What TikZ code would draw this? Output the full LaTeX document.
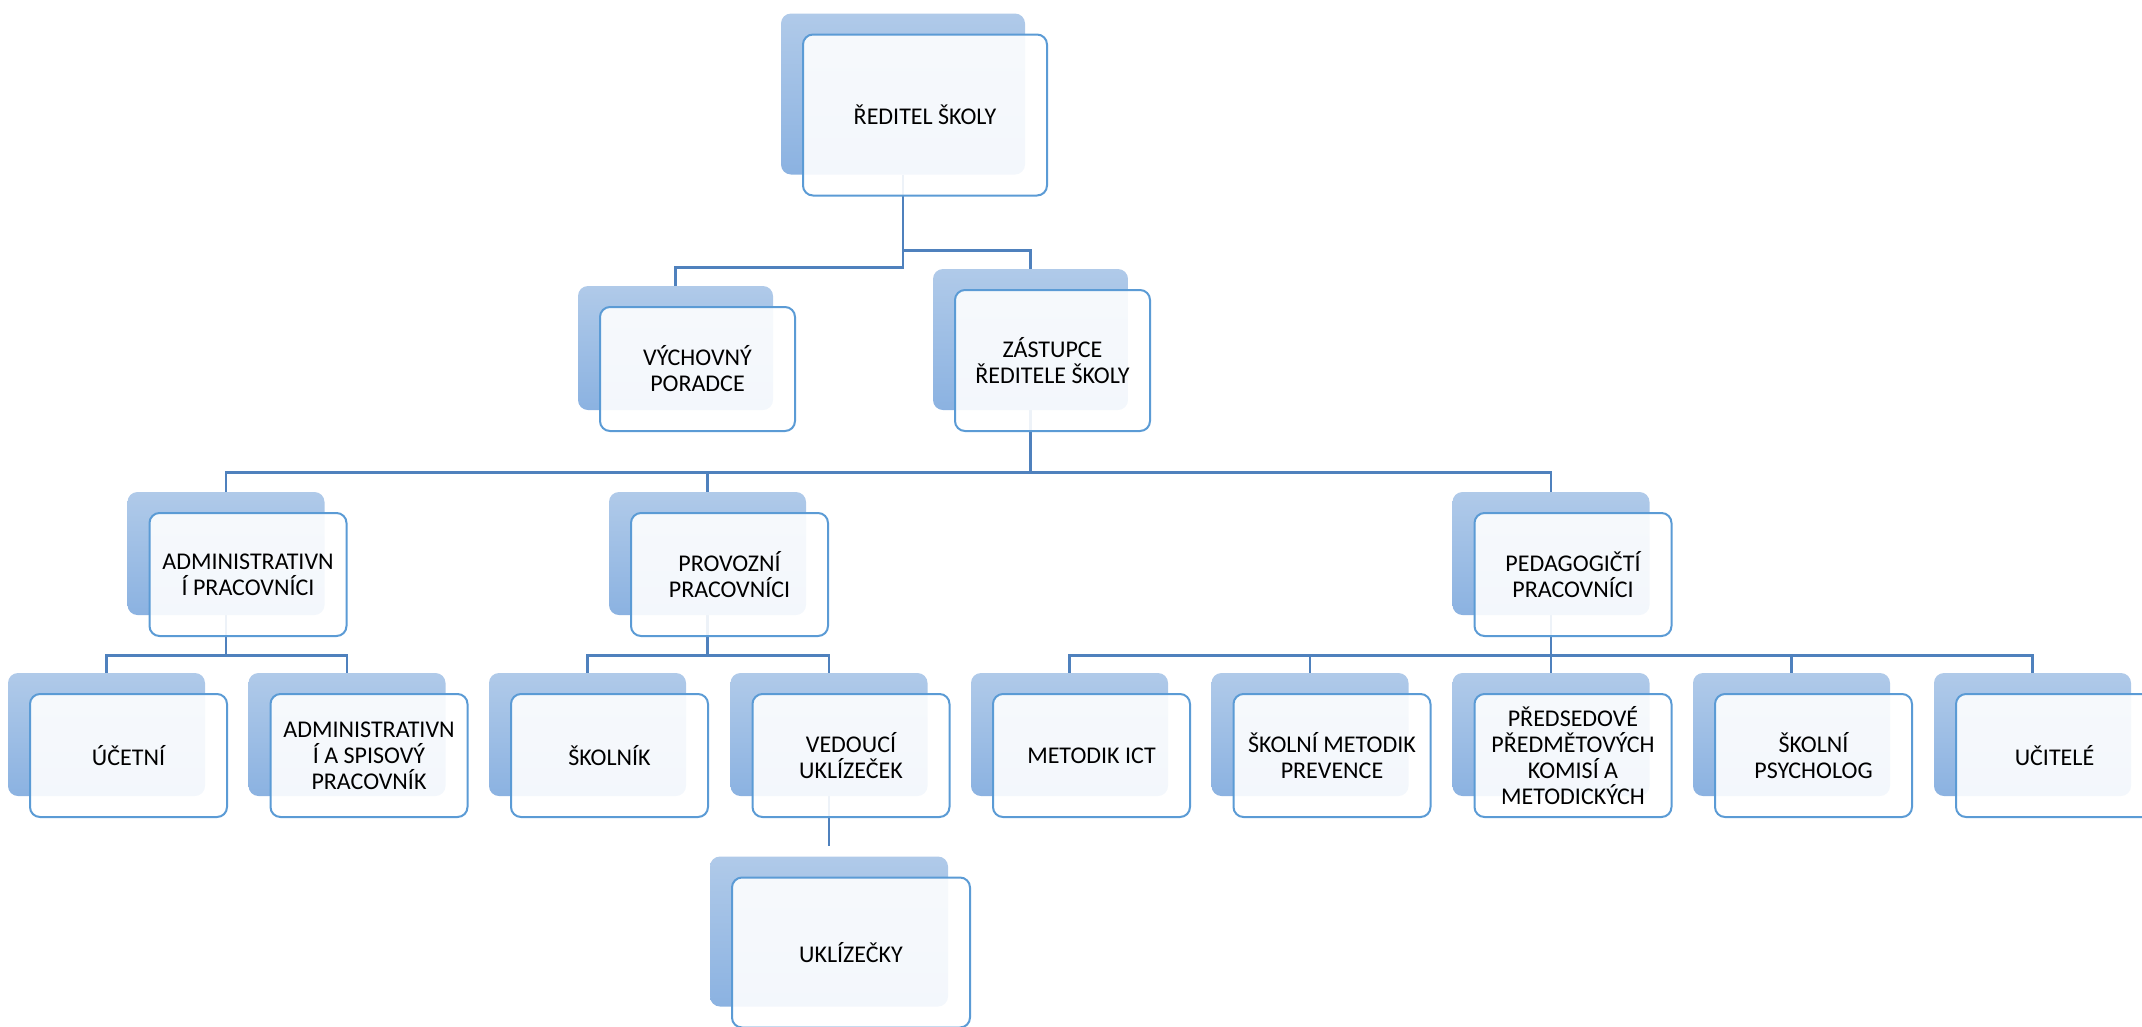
\documentclass[tikz,border=0pt]{standalone}
\usepackage{fontspec}
\setmainfont{Carlito}
\usetikzlibrary{positioning,calc,backgrounds}
\definecolor{backtop}{HTML}{B0CAE9}
\definecolor{backbot}{HTML}{8BB2E1}
\definecolor{edge}{HTML}{5B9BD5}
\definecolor{wire}{HTML}{4F81BD}

\begin{document}
\begin{tikzpicture}[
  x=1pt,y=-1pt,
  back/.style={rounded corners=10pt,top color=backtop,bottom color=backbot,minimum width=197pt,minimum height=123pt,inner sep=0pt},
  card/.style={draw=edge,line width=2pt,rounded corners=10pt,fill=white,fill opacity=0.9,text opacity=1,minimum width=197pt,minimum height=123pt,inner sep=0pt,align=center,font=\fontsize{24}{26}\selectfont},
  link/.style={draw=wire,line width=2.8pt}
]
  \useasboundingbox (0,0) rectangle (2142,1026);

  % top
  \node[back,minimum width=244pt,minimum height=161pt] (dirb) at (903,94) {};
  \node[card,minimum width=244pt,minimum height=161pt] (dir) at ($(dirb)+(22,21)$) {ŘEDITEL ŠKOLY};

  \node[back,minimum width=195pt,minimum height=124pt] (vychb) at (675.5,348) {};
  \node[card,minimum width=195pt,minimum height=124pt] (vych) at ($(vychb)+(22,21)$) {VÝCHOVNÝ\\PORADCE};
  \node[back,minimum width=195pt,minimum height=141pt] (zastb) at (1030.5,339.5) {};
  \node[card,minimum width=195pt,minimum height=141pt] (zast) at ($(zastb)+(22,21)$) {ZÁSTUPCE\\ŘEDITELE ŠKOLY};

  % groups
  \node[back] (admb) at (226,553.5) {};
  \node[card] (adm) at ($(admb)+(22,21)$) {ADMINISTRATIVN\\Í PRACOVNÍCI};
  \node[back] (provb) at (707.5,553.5) {};
  \node[card] (prov) at ($(provb)+(22,21)$) {PROVOZNÍ\\PRACOVNÍCI};
  \node[back] (pedb) at (1551,553.5) {};
  \node[card] (ped) at ($(pedb)+(22,21)$) {PEDAGOGIČTÍ\\PRACOVNÍCI};

  % staff
  \node[back] (uceb) at (106.5,734.5) {};
  \node[card] (uce) at ($(uceb)+(22,21)$) {ÚČETNÍ};
  \node[back] (spisb) at (347,734.5) {};
  \node[card] (spis) at ($(spisb)+(22,21)$) {ADMINISTRATIVN\\Í A SPISOVÝ\\PRACOVNÍK};
  \node[back] (sknb) at (587.5,734.5) {};
  \node[card] (skn) at ($(sknb)+(22,21)$) {ŠKOLNÍK};
  \node[back] (vedb) at (829,734.5) {};
  \node[card] (ved) at ($(vedb)+(22,21)$) {VEDOUCÍ\\UKLÍZEČEK};
  \node[back] (ictb) at (1069.5,734.5) {};
  \node[card] (ict) at ($(ictb)+(22,21)$) {METODIK ICT};
  \node[back] (prevb) at (1310,734.5) {};
  \node[card] (prev) at ($(prevb)+(22,21)$) {ŠKOLNÍ METODIK\\PREVENCE};
  \node[back] (predb) at (1551,734.5) {};
  \node[card] (pred) at ($(predb)+(22,21)$) {PŘEDSEDOVÉ\\PŘEDMĚTOVÝCH\\KOMISÍ A\\METODICKÝCH};
  \node[back] (psyb) at (1791.5,734.5) {};
  \node[card] (psy) at ($(psyb)+(22,21)$) {ŠKOLNÍ\\PSYCHOLOG};
  \node[back] (ucib) at (2032.5,734.5) {};
  \node[card] (uci) at ($(ucib)+(22,21)$) {UČITELÉ};

  \node[back,minimum width=238pt,minimum height=150pt] (uklb) at (829,931.5) {};
  \node[card,minimum width=238pt,minimum height=150pt] (ukl) at ($(uklb)+(22,21)$) {UKLÍZEČKY};
  \coordinate (uklin) at ($(uklb.north)+(0,-10)$);

  \begin{scope}[on background layer]
    \draw[link] (dirb.south) -- ++(0,76) -| (zastb.north);
    \draw[link] (dirb.south) -- ++(0,93) -| (vychb.north);

    \draw[link] (zastb.south) -- ++(0,62) -| (admb.north);
    \draw[link] (zastb.south) -- ++(0,62) -| (provb.north);
    \draw[link] (zastb.south) -- ++(0,62) -| (pedb.north);

    \draw[link] (admb.south) -- ++(0,40) -| (uceb.north);
    \draw[link] (admb.south) -- ++(0,40) -| (spisb.north);
    \draw[link] (provb.south) -- ++(0,40) -| (sknb.north);
    \draw[link] (provb.south) -- ++(0,40) -| (vedb.north);
    \draw[link] (pedb.south) -- ++(0,40) -| (ictb.north);
    \draw[link] (pedb.south) -- ++(0,40) -| (prevb.north);
    \draw[link] (pedb.south) -- ++(0,40) -| (predb.north);
    \draw[link] (pedb.south) -- ++(0,40) -| (psyb.north);
    \draw[link] (pedb.south) -- ++(0,40) -| (ucib.north);

    \draw[link] (vedb.south) -- (uklin);
  \end{scope}
\end{tikzpicture}
\end{document}
